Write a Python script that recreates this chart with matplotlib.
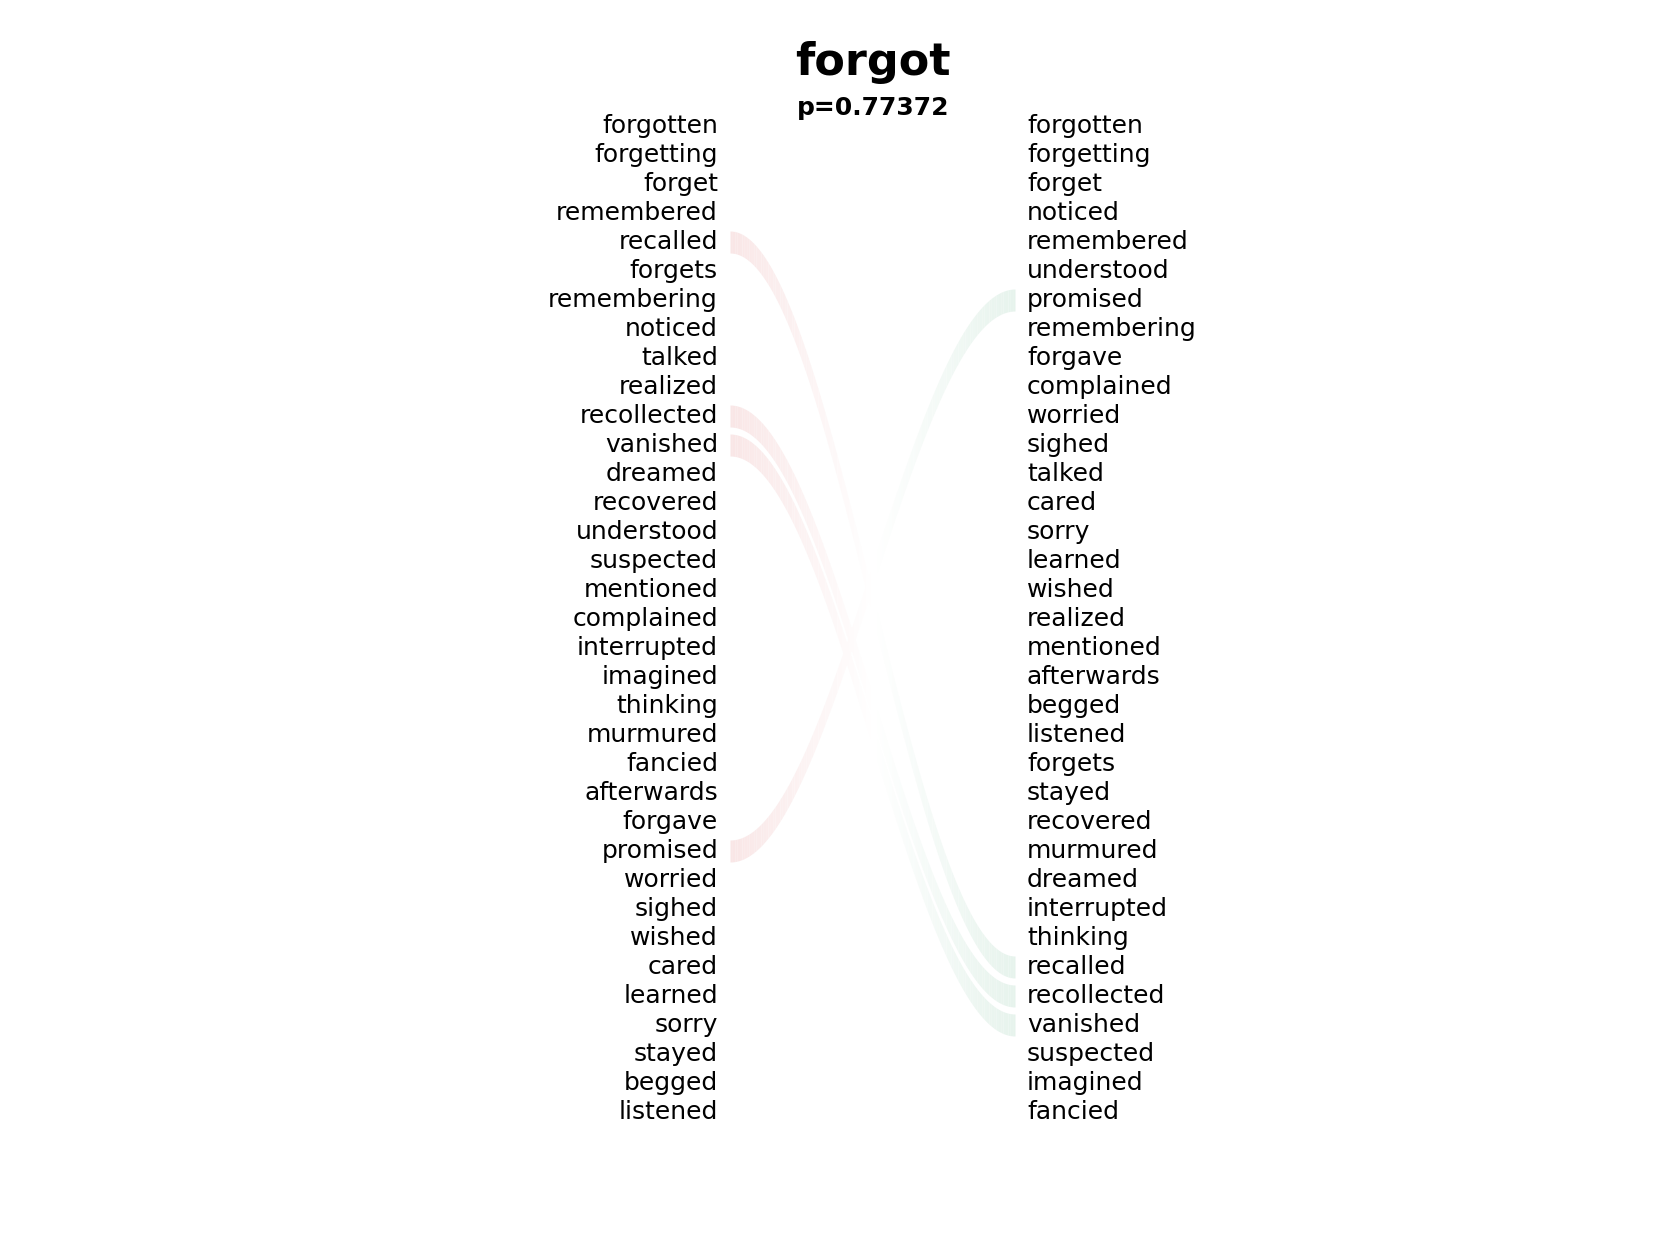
import numpy as np
import matplotlib.pyplot as plt
from matplotlib.colors import to_rgb

title = "forgot"
pval = 0.77372
left_words = ["forgotten", "forgetting", "forget", "remembered", "recalled", "forgets",
              "remembering", "noticed", "talked", "realized", "recollected", "vanished",
              "dreamed", "recovered", "understood", "suspected", "mentioned", "complained",
              "interrupted", "imagined", "thinking", "murmured", "fancied", "afterwards",
              "forgave", "promised", "worried", "sighed", "wished", "cared", "learned",
              "sorry", "stayed", "begged", "listened"]
right_words = ["forgotten", "forgetting", "forget", "noticed", "remembered", "understood",
               "promised", "remembering", "forgave", "complained", "worried", "sighed",
               "talked", "cared", "sorry", "learned", "wished", "realized", "mentioned",
               "afterwards", "begged", "listened", "forgets", "stayed", "recovered",
               "murmured", "dreamed", "interrupted", "thinking", "recalled", "recollected",
               "vanished", "suspected", "imagined", "fancied"]
# words whose rank moved a lot get a band
linked = ["recalled", "recollected", "vanished", "promised"]

W, H = 1680, 1260
fig = plt.figure(figsize=(W/100, H/100), dpi=100)
ax = fig.add_axes([0, 0, 1, 1])
ax.set_xlim(0, W)
ax.set_ylim(H, 0)
ax.axis("off")

y0, dy = 126, 29.0
xl, xr = 718, 1027
bx0, bx1 = 730, 1015
half = 11

left_c = np.array(to_rgb("#f9e6e6"))
mid_c = np.array([1.0, 1.0, 1.0])
right_c = np.array(to_rgb("#e6f3ec"))

for i, w in enumerate(left_words):
    ax.text(xl, y0 + i*dy, w, ha="right", va="center", fontsize=18)
for i, w in enumerate(right_words):
    ax.text(xr, y0 + i*dy, w, ha="left", va="center", fontsize=18)

n = 120
ts = np.linspace(0, 1, n + 1)
for w in linked:
    ya = y0 + left_words.index(w)*dy
    yb = y0 + right_words.index(w)*dy
    s = (1 - np.cos(np.pi*ts))/2
    xs = bx0 + (bx1 - bx0)*ts
    ys = ya + (yb - ya)*s
    for k in range(n):
        t = ts[k]
        if t < 0.5:
            c = left_c + (mid_c - left_c)*(t/0.5)
        else:
            c = mid_c + (right_c - mid_c)*((t - 0.5)/0.5)
        ax.fill_between(xs[k:k+2], ys[k:k+2] - half, ys[k:k+2] + half,
                        color=c, linewidth=0)

ax.text(W/2 + 33, 62, title, ha="center", va="center", fontsize=32, fontweight="bold")
ax.text(W/2 + 33, 108, "p=%.5f" % pval, ha="center", va="center", fontsize=18, fontweight="bold")

fig.savefig("out.png", dpi=100)
